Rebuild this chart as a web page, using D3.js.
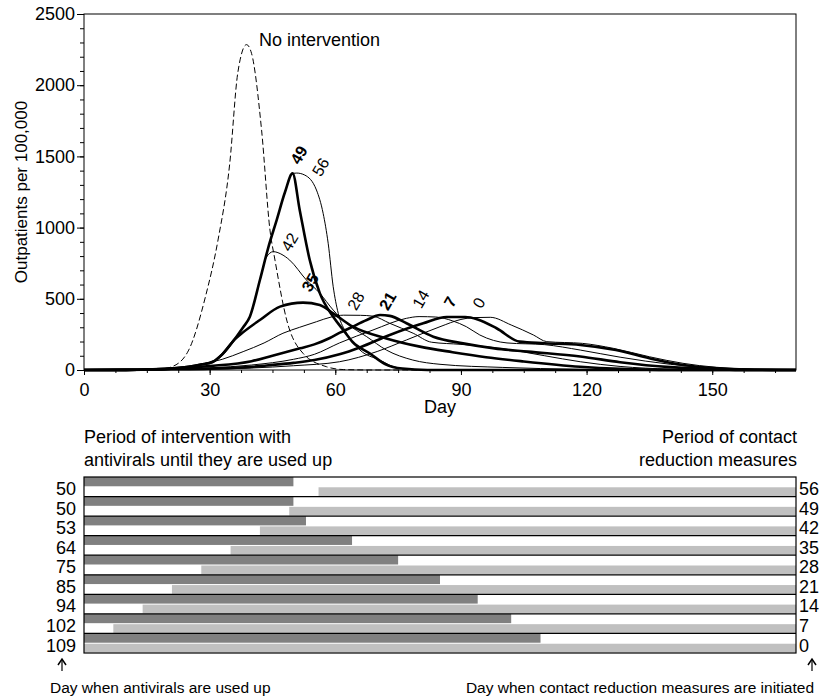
<!DOCTYPE html>
<html>
<head>
<meta charset="utf-8">
<script src="https://cdn.jsdelivr.net/npm/d3@7"></script>
<style>
body { margin: 0; background: #fff; }
svg { font-family: "Liberation Sans", Arial, Helvetica, sans-serif; }
</style>
</head>
<body>
<div id="chart"></div>
<script>
// outpatients per 100,000, [day, value]
var noIntervention = [[0,0],[15,1],[18,5],[21,23],[25,140],[29,515],[32,913],[34.8,1451],[36.7,2083],[38.8,2285],[40,2224],[42.4,1685],[44.4,983],[45.6,772],[48.4,351],[52.3,117],[57.9,23],[62,3],[70,0],[170,0]];

var cr56 = [[0,0],[10,1],[15,3],[20,8],[25,22],[28,38],[30.8,58],[33,110],[36.4,234],[38,300],[39.6,374],[42,632],[44,860],[46,1053],[48,1250],[49.8,1381],[50.8,1383],[52.7,1369],[55.5,1264],[57.1,1100],[58.3,890],[59.5,585],[60.7,398],[62.7,258],[65.9,140],[70.6,70],[75,14],[80,2],[90,0],[170,0]];
var cr49 = [[0,0],[10,1],[15,3],[20,8],[25,22],[28,38],[30.8,58],[33,110],[36.4,234],[38,300],[39.6,374],[42,632],[44,860],[46,1053],[48,1250],[49.8,1381],[51.5,1124],[53.9,772],[56.3,540],[59.5,374],[61.9,281],[64.2,195],[68.3,115],[72,40],[76,10],[82,0],[170,0]];
var cr42 = [[0,0],[10,1],[15,3],[20,8],[25,22],[28,38],[30.8,58],[33,110],[36.4,234],[38,300],[39.6,374],[42,632],[43.5,790],[45.2,831],[47,815],[49.1,772],[53.1,632],[56.3,539],[59.5,421],[62.7,328],[67.5,234],[72.2,140],[78.5,70],[85,40],[100,18],[118,5],[130,0],[170,0]];
var cr35 = [[0,0],[10,1],[15,3],[20,8],[25,22],[28,38],[30.8,58],[33,110],[36,215],[37.2,246],[42,351],[46.8,445],[52.3,473],[56.3,456],[59.5,398],[64.2,304],[72.2,222],[80.2,164],[88,125],[96,90],[105,60],[118.5,23],[128,8],[140,0],[170,0]];
var cr28 = [[0,0],[10,1],[15,3],[20,8],[25,22],[28,40],[33,75],[38,129],[43,190],[47.5,258],[51.5,300],[55.5,339],[59,372],[62,385],[66,384],[69,378],[73,328],[78.6,258],[83,195],[90,180],[100,150],[110,100],[118.5,58],[128,25],[140,6],[150,0],[170,0]];
var cr21 = [[0,0],[10,1],[15,3],[21,10],[30,28],[40,62],[45,100],[51.6,152],[55,180],[58.7,225],[61.1,262],[63.5,295],[67.5,351],[70.7,386],[73,380],[77,328],[83.4,234],[90.5,187],[98,152],[106,129],[118.5,95],[128,55],[140,20],[150,6],[160,0],[170,0]];
var cr14 = [[0,0],[10,1],[14,3],[20,7],[30,15],[40,35],[50,75],[55,110],[61,190],[69,281],[77,363],[80,375],[84,372],[88,345],[91.3,304],[94.5,246],[101,190],[110,178],[118.5,140],[128,90],[140,40],[150,14],[160,3],[170,0]];
var cr7 = [[0,0],[10,1],[20,5],[30,10],[40,22],[43.6,32],[50,50],[55,70],[61,110],[66,160],[73,246],[81,328],[86.6,372],[91,372],[94,355],[98.5,293],[104,199],[110,188],[118.5,176],[127,140],[135,82],[143,35],[151,12],[160,2],[170,0]];
var cr0 = [[0,0],[20,3],[30,6],[40,14],[50,30],[61,58],[70,130],[77,211],[85,304],[90,355],[93,368],[97,370],[102,316],[107.3,246],[110.5,199],[119,187],[126.4,152],[135,93],[143,47],[151,19],[163,5],[170,0]];

var contactDays = [56, 49, 42, 35, 28, 21, 14, 7, 0];
var usedUpDays = [50, 50, 53, 64, 75, 85, 94, 102, 109];
var boldDays = [49, 35, 21, 7];
var curves = [cr56, cr49, cr42, cr35, cr28, cr21, cr14, cr7, cr0];
// label anchors in [day, value]
var curveLabelAt = [[56.5,1426],[51.3,1510],[49.1,899],[54,615],[64.9,485],[72.5,485],[80.4,499],[87.4,478],[94.3,471]];
var noInterventionLabelAt = [41.8, 2275];

var yTicks = [0, 500, 1000, 1500, 2000, 2500];
var xTicks = [0, 30, 60, 90, 120, 150];

var width = 823, height = 700;

var svg = d3.select('#chart').append('svg')
	.attr('width', width)
	.attr('height', height);

var x = d3.scaleLinear().domain([0, 170]).range([84, 796]);
var y = d3.scaleLinear().domain([0, 2500]).range([370, 14]);

var line = d3.line()
	.x(function(d) { return x(d[0]); })
	.y(function(d) { return y(d[1]); })
	.curve(d3.curveMonotoneX);

// curves
var $curves = svg.append('g');
$curves.append('path')
	.attr('d', line(noIntervention))
	.attr('fill', 'none')
	.attr('stroke', '#000')
	.attr('stroke-width', 1)
	.attr('stroke-dasharray', '6,3');

$curves.selectAll('path.cr').data(curves).enter()
	.append('path')
	.attr('class', 'cr')
	.attr('d', line)
	.attr('fill', 'none')
	.attr('stroke', '#000')
	.attr('stroke-linejoin', 'round')
	.attr('stroke-width', function(d, i) { return boldDays.indexOf(contactDays[i]) >= 0 ? 2.6 : 1; });

$curves.selectAll('text.cr').data(curveLabelAt).enter()
	.append('text')
	.attr('class', 'cr')
	.attr('transform', function(d) { return 'translate(' + x(d[0]) + ',' + y(d[1]) + ') rotate(-60)'; })
	.attr('text-anchor', 'middle')
	.attr('dy', '0.35em')
	.attr('font-size', 16)
	.attr('font-weight', function(d, i) { return boldDays.indexOf(contactDays[i]) >= 0 ? 'bold' : 'normal'; })
	.text(function(d, i) { return contactDays[i]; });

svg.append('text')
	.attr('x', x(noInterventionLabelAt[0]))
	.attr('y', y(noInterventionLabelAt[1]))
	.attr('font-size', 18)
	.text('No intervention');

// frame
svg.append('rect')
	.attr('x', x(0)).attr('y', y(2500))
	.attr('width', x(170) - x(0)).attr('height', y(0) - y(2500))
	.attr('fill', 'none').attr('stroke', '#000').attr('stroke-width', 1);

// axes
var yMinor = svg.append('g').attr('transform', 'translate(' + x(0) + ',0)')
	.call(d3.axisLeft(y).tickValues(d3.range(0, 2501, 100)).tickSize(4).tickFormat(''));
var yAxis = svg.append('g').attr('transform', 'translate(' + x(0) + ',0)')
	.call(d3.axisLeft(y).tickValues(yTicks).tickSize(7).tickSizeOuter(0).tickPadding(2).tickFormat(d3.format('d')));
var xMinor = svg.append('g').attr('transform', 'translate(0,' + y(0) + ')')
	.call(d3.axisBottom(x).tickValues(d3.range(0, 170, 7.5)).tickSize(3).tickFormat(''));
var xAxis = svg.append('g').attr('transform', 'translate(0,' + y(0) + ')')
	.call(d3.axisBottom(x).tickValues(xTicks).tickSize(5).tickSizeOuter(0).tickPadding(8).tickFormat(d3.format('d')));

[yMinor, yAxis, xMinor, xAxis].forEach(function(a) {
	a.select('.domain').remove();
	a.selectAll('text').attr('font-size', 18).attr('font-family', null).attr('fill', '#000');
	a.selectAll('line').attr('stroke', '#000');
});

svg.append('text')
	.attr('x', x(85)).attr('y', 413)
	.attr('text-anchor', 'middle')
	.attr('font-size', 18)
	.text('Day');

svg.append('text')
	.attr('transform', 'translate(27,' + ((y(0) + y(2500)) / 2) + ') rotate(-90)')
	.attr('text-anchor', 'middle')
	.attr('font-size', 17)
	.text('Outpatients per 100,000');

// lower panel: intervention periods
var rows = d3.scaleBand().domain(d3.range(contactDays.length)).range([477, 653]);
var bh = rows.bandwidth();

svg.append('text').attr('x', x(0)).attr('y', 443).attr('font-size', 18).text('Period of intervention with');
svg.append('text').attr('x', x(0)).attr('y', 466).attr('font-size', 18).text('antivirals until they are used up');
svg.append('text').attr('x', 797).attr('y', 443).attr('text-anchor', 'end').attr('font-size', 18).text('Period of contact');
svg.append('text').attr('x', 797).attr('y', 466).attr('text-anchor', 'end').attr('font-size', 18).text('reduction measures');

var $rows = svg.append('g');
$rows.selectAll('rect.av').data(usedUpDays).enter()
	.append('rect')
	.attr('class', 'av')
	.attr('x', x(0))
	.attr('y', function(d, i) { return rows(i); })
	.attr('width', function(d) { return x(d) - x(0); })
	.attr('height', bh / 2 - 0.5)
	.attr('fill', '#808080');

$rows.selectAll('rect.cr').data(contactDays).enter()
	.append('rect')
	.attr('class', 'cr')
	.attr('x', function(d) { return x(d); })
	.attr('y', function(d, i) { return rows(i) + bh / 2 + 0.5; })
	.attr('width', function(d) { return x(170) - x(d); })
	.attr('height', bh / 2 - 1)
	.attr('fill', '#c0c0c0');

$rows.selectAll('line.sep').data(d3.range(1, contactDays.length)).enter()
	.append('line')
	.attr('class', 'sep')
	.attr('x1', x(0)).attr('x2', x(170))
	.attr('y1', function(i) { return rows(i); })
	.attr('y2', function(i) { return rows(i); })
	.attr('stroke', '#000').attr('stroke-width', 1.2);

$rows.append('rect')
	.attr('x', x(0)).attr('y', rows.range()[0])
	.attr('width', x(170) - x(0)).attr('height', rows.range()[1] - rows.range()[0])
	.attr('fill', 'none').attr('stroke', '#000').attr('stroke-width', 1.2);

$rows.selectAll('text.av').data(usedUpDays).enter()
	.append('text')
	.attr('class', 'av')
	.attr('x', 76)
	.attr('y', function(d, i) { return rows(i) + bh - 1.5; })
	.attr('text-anchor', 'end')
	.attr('font-size', 18)
	.text(function(d) { return d; });

$rows.selectAll('text.cr').data(contactDays).enter()
	.append('text')
	.attr('class', 'cr')
	.attr('x', 799)
	.attr('y', function(d, i) { return rows(i) + bh - 1.5; })
	.attr('font-size', 18)
	.text(function(d) { return d; });

// arrows and notes
[62, 812].forEach(function(ax) {
	svg.append('line')
		.attr('x1', ax).attr('x2', ax).attr('y1', 660).attr('y2', 671)
		.attr('stroke', '#000').attr('stroke-width', 1.2);
	svg.append('path')
		.attr('d', 'M' + (ax - 4) + ',665 L' + ax + ',659 L' + (ax + 4) + ',665')
		.attr('fill', 'none').attr('stroke', '#000').attr('stroke-width', 1.5);
});

svg.append('text').attr('x', 50).attr('y', 693).attr('font-size', 15.5).text('Day when antivirals are used up');
svg.append('text').attr('x', 814).attr('y', 693).attr('text-anchor', 'end').attr('font-size', 15.5)
	.text('Day when contact reduction measures are initiated');
</script>
</body>
</html>
